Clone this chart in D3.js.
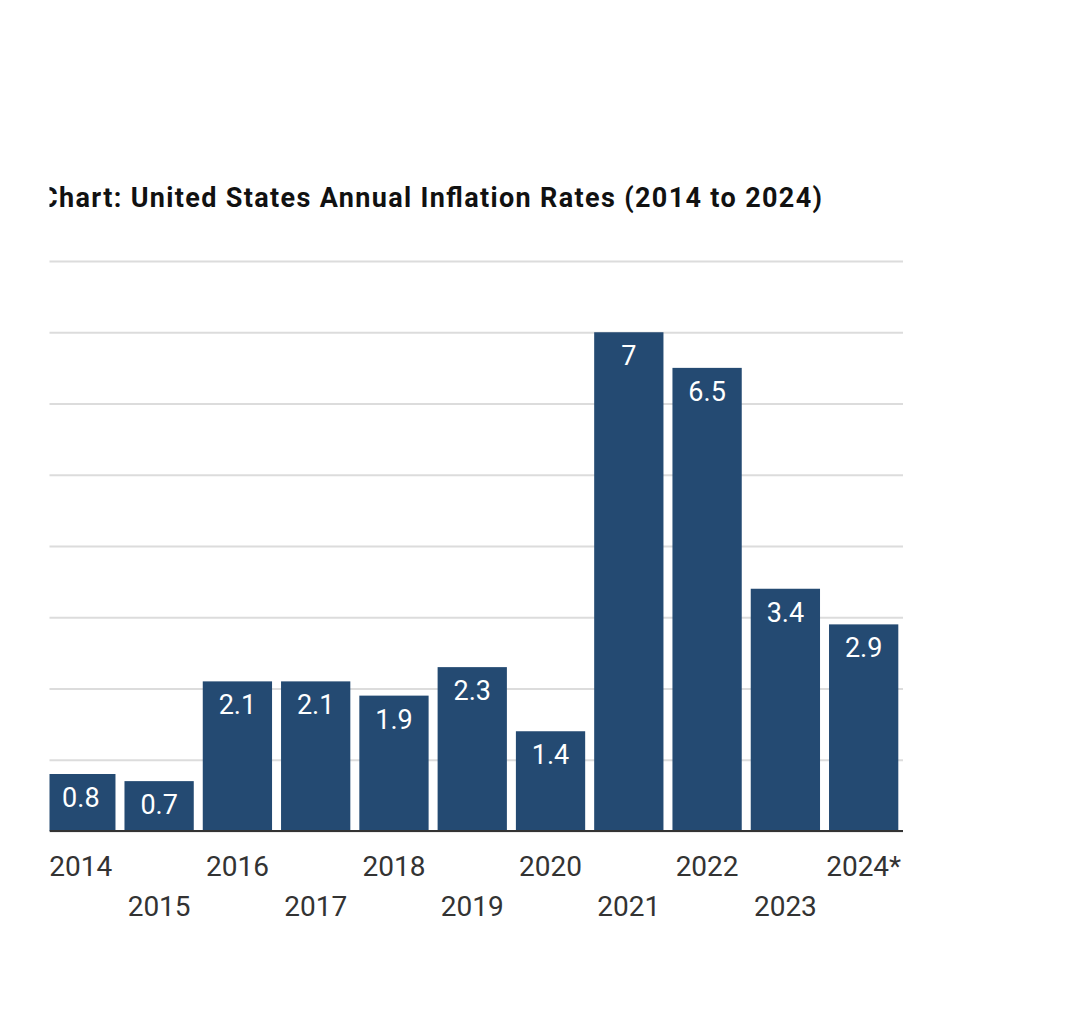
<!DOCTYPE html>
<html lang="en">
  <head>
    <meta charset="utf-8">
    <script src="https://cdn.jsdelivr.net/npm/d3@7"></script>
    <style>
      body { margin: 0; background: #fff; }
      svg { display: block; font-family: Roboto, "Noto Sans", sans-serif; }
    </style>
  </head>
  <body>
    <svg id="chart"></svg>
  </body>
  <script>
    // data
    var years = ['2014', '2015', '2016', '2017', '2018', '2019', '2020', '2021', '2022', '2023', '2024*'];
    var rates = [0.8, 0.7, 2.1, 2.1, 1.9, 2.3, 1.4, 7, 6.5, 3.4, 2.9];
    var yTicks = [0, 1, 2, 3, 4, 5, 6, 7, 8];

    var width = 1080, height = 1024;
    // (don't call it "top", that is window.top)
    var plotLeft = 41.5, plotRight = 903, plotTop = 261, plotBottom = 831;
    var clipX = 49.5;

    var svg = d3.select('#chart').attr('width', width).attr('height', height);

    // the screenshot cuts the chart off on the left
    svg.append('clipPath').attr('id', 'cut')
      .append('rect').attr('x', clipX).attr('y', 0)
      .attr('width', width - clipX).attr('height', height);

    var g = svg.append('g').attr('clip-path', 'url(#cut)');

    var x = d3.scaleBand()
      .domain(years)
      .range([plotLeft, plotRight])
      .paddingInner(0.115)
      .paddingOuter(0.06);

    var y = d3.scaleLinear()
      .domain([0, 8])
      .range([plotBottom, plotTop]);

    // title
    g.append('text')
      .attr('x', 40)
      .attr('y', 207)
      .attr('font-size', 27)
      .attr('font-weight', 'bold')
      .attr('fill', '#111')
      .attr('textLength', 782)
      .attr('lengthAdjust', 'spacing')
      .text('Chart: United States Annual Inflation Rates (2014 to 2024)');

    // gridlines
    var ga = g.append('g').attr('transform', 'translate(' + plotRight + ',0)')
      .call(d3.axisRight(y).tickValues(yTicks).tickSize(-(plotRight - plotLeft)).tickFormat(''));
    ga.select('.domain').remove();
    ga.selectAll('.tick line').attr('stroke', '#dcdcdc').attr('stroke-width', 2);

    // bars
    g.selectAll('rect.bar')
      .data(rates).enter()
      .append('rect')
      .attr('class', 'bar')
      .attr('x', function(d, i) { return x(years[i]); })
      .attr('y', function(d) { return y(d); })
      .attr('width', x.bandwidth())
      .attr('height', function(d) { return y(0) - y(d); })
      .attr('fill', '#244a72');

    // value labels
    g.selectAll('text.val')
      .data(rates).enter()
      .append('text')
      .attr('class', 'val')
      .attr('x', function(d, i) { return x(years[i]) + x.bandwidth() / 2; })
      .attr('y', function(d) { return y(d) + 33; })
      .attr('text-anchor', 'middle')
      .attr('font-size', 27)
      .attr('fill', '#fff')
      .text(function(d) { return d; });

    // baseline + year labels
    var gx = g.append('g').attr('transform', 'translate(0,' + plotBottom + ')')
      .call(d3.axisBottom(x).tickSize(0).tickPadding(0));
    gx.select('.domain').attr('stroke', '#333').attr('stroke-width', 2)
      .attr('d', 'M' + clipX + ',0H' + plotRight);
    gx.selectAll('.tick text')
      .attr('font-size', 28)
      .attr('font-family', 'Roboto, sans-serif')
      .attr('fill', '#333')
      .attr('dy', null)
      .attr('y', function(d, i) { return i % 2 === 0 ? 45 : 85; });
  </script>
</html>
